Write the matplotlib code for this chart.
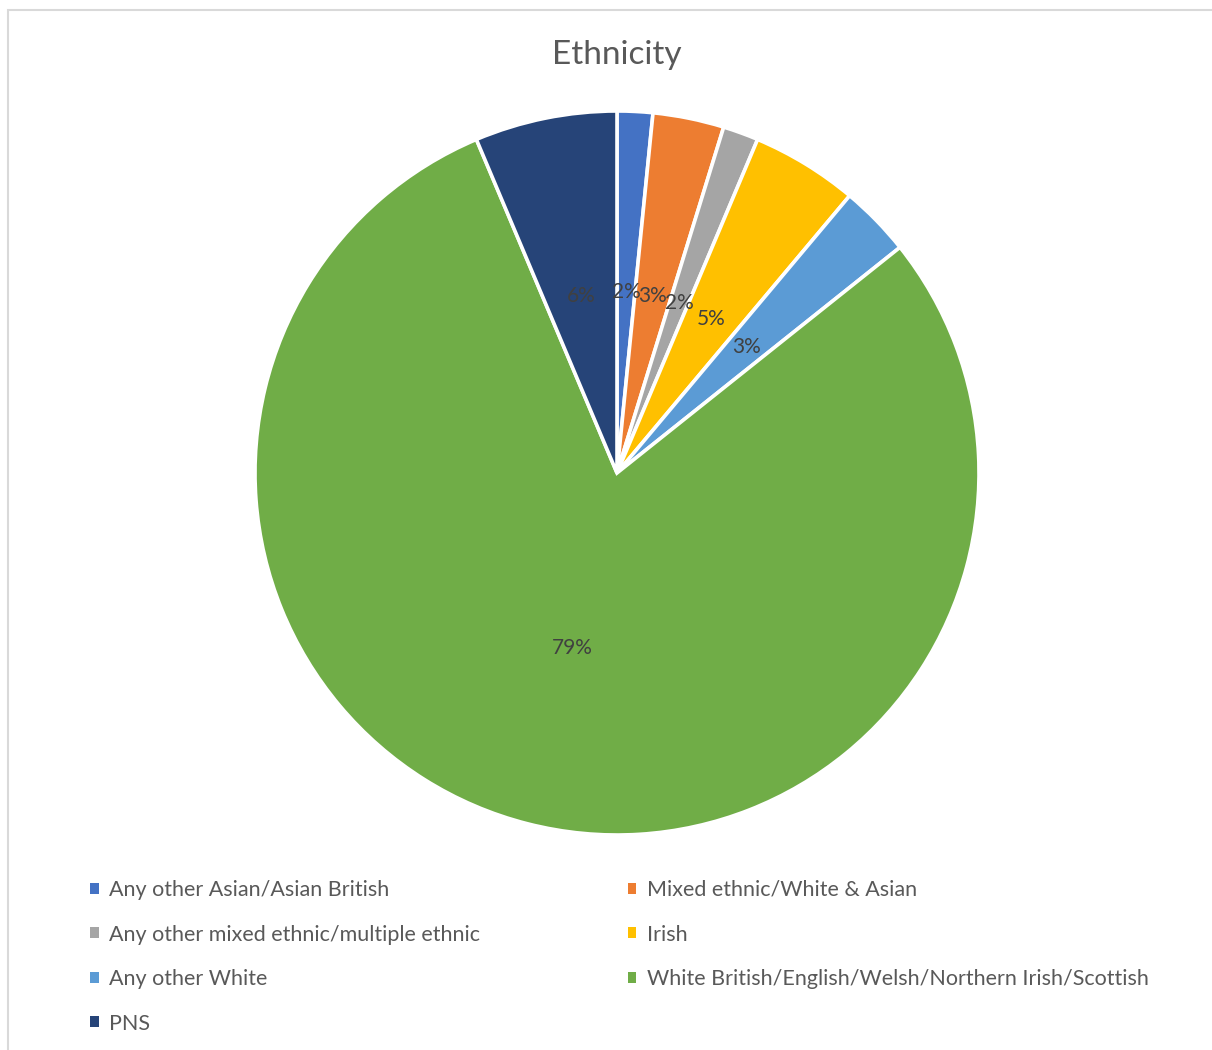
import matplotlib.pyplot as plt
from matplotlib.patches import Patch, Rectangle

# data (counts, shares come out as 2/3/2/5/3/79/6 %)
categories = ['Any other Asian/Asian British', 'Mixed ethnic/White & Asian',
              'Any other mixed ethnic/multiple ethnic', 'Irish',
              'Any other White',
              'White British/English/Welsh/Northern Irish/Scottish', 'PNS']
counts = [1, 2, 1, 3, 2, 50, 4]
colors = ['#4472C4', '#ED7D31', '#A5A5A5', '#FFC000', '#5B9BD5', '#70AD47', '#264478']

plt.rcParams['font.family'] = ['Lato', 'DejaVu Sans']

fig = plt.figure(figsize=(12.12, 10.5), dpi=100)

# light grey chart border
fig.patches.append(Rectangle((8 / 1212, -0.1), 1.2, (1050 - 10) / 1050 + 0.1,
                             transform=fig.transFigure, fill=False,
                             edgecolor='#D9D9D9', linewidth=1.5))

cx, cy, r = 617, 473, 362
ax = fig.add_axes([(cx - r) / 1212, (1050 - cy - r) / 1050, 2 * r / 1212, 2 * r / 1050])
wedges, texts, autotexts = ax.pie(counts, colors=colors, startangle=90, counterclock=False,
                                  autopct='%1.0f%%', pctdistance=0.5,
                                  wedgeprops=dict(edgecolor='white', linewidth=2.6),
                                  textprops=dict(color='#404040', fontsize=15))
ax.set_xlim(-1, 1)
ax.set_ylim(-1, 1)
ax.axis('off')

fig.text(617 / 1212, 1 - 55 / 1050, 'Ethnicity', ha='center', va='center',
         fontsize=24, color='#595959')

# legend, row-major order like the original
order = [0, 2, 4, 6, 1, 3, 5]
handles = [Patch(facecolor=colors[i], edgecolor='none') for i in order]
labels = [categories[i] for i in order]
leg = fig.legend(handles, labels, ncol=2, loc='upper left',
                 bbox_to_anchor=(90 / 1212, 1 - 880 / 1050), frameon=False,
                 fontsize=15.5, handlelength=0.4, handleheight=0.4,
                 handletextpad=0.5, labelspacing=1.14, columnspacing=6.85,
                 borderpad=0, borderaxespad=0)
for t in leg.get_texts():
    t.set_color('#595959')

fig.savefig('out.png', dpi=100)
